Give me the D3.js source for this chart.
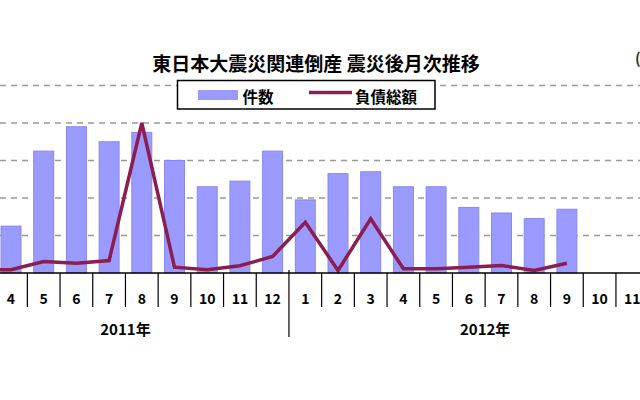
<!DOCTYPE html>
<html>
<head>
<meta charset="utf-8">
<script src="https://cdn.jsdelivr.net/npm/d3@7"></script>
<style>
  body { margin: 0; background: #fff; }
  text { font-family: "Noto Sans CJK JP", "Noto Sans", sans-serif; font-weight: bold; }
</style>
</head>
<body>
<script>
var title = '東日本大震災関連倒産 震災後月次推移';
var unitLabel = '(億円)';
var years = ['2011年', '2012年'];
var months2011 = [3, 4, 5, 6, 7, 8, 9, 10, 11, 12];
var months2012 = [1, 2, 3, 4, 5, 6, 7, 8, 9, 10, 11, 12];
// 件数 (left axis) and 負債総額 (right axis, off-screen), Mar 2011 .. Dec 2012
var counts = [14, 25, 65, 78, 70, 75, 60, 46, 49, 65, 39, 53, 54, 46, 46, 35, 32, 29, 34, null, null, null];
var debts = [90, 85, 307, 261, 333, 4000, 155, 85, 192, 440, 1355, 67, 1445, 112, 112, 155, 200, 67, 261, null, null, null];
var countTicks = [0, 20, 40, 60, 80, 100];
var debtDomain = [0, 5000];
var legendLabels = ['件数', '負債総額'];

var barColor = '#9b9bff', lineColor = '#8c1d4f';

var data = [];
months2011.forEach(function(m) { data.push({ key: '2011-' + m, year: years[0], month: m }); });
months2012.forEach(function(m) { data.push({ key: '2012-' + m, year: years[1], month: m }); });
data.forEach(function(d, i) { d.count = counts[i]; d.debt = debts[i]; });

var svg = d3.select('body').append('svg')
  .attr('width', 640)
  .attr('height', 400);

var step = 32.7, x0 = -38.05, base = 273, plotTop = 85.5;

var x = d3.scaleBand()
  .domain(data.map(function(d) { return d.key; }))
  .range([x0, x0 + step * data.length])
  .padding(0);

var y = d3.scaleLinear().domain([0, 100]).range([base, plotTop]);
var y2 = d3.scaleLinear().domain(debtDomain).range([base, plotTop]);

var cx = function(d) { return x(d.key) + x.bandwidth() / 2; };

// grid
svg.append('g').selectAll('line')
  .data(countTicks.filter(function(t) { return t > 0; }))
  .enter().append('line')
  .attr('x1', 0).attr('x2', 640)
  .attr('y1', function(d) { return y(d); })
  .attr('y2', function(d) { return y(d); })
  .style('stroke', '#999')
  .style('stroke-width', 1.3)
  .style('stroke-dasharray', '6,5');

// bars
var bw = x.bandwidth() * 0.61;
svg.append('g').selectAll('rect')
  .data(data.filter(function(d) { return d.count != null; }))
  .enter().append('rect')
  .attr('x', function(d) { return cx(d) - bw / 2; })
  .attr('width', bw)
  .attr('y', function(d) { return y(d.count); })
  .attr('height', function(d) { return base - y(d.count); })
  .style('fill', barColor)
  .style('stroke', '#8686f4')
  .style('stroke-width', 1);

// line
var line = d3.line()
  .defined(function(d) { return d.debt != null; })
  .x(cx)
  .y(function(d) { return y2(d.debt); });

svg.append('path')
  .datum(data)
  .attr('d', line)
  .style('fill', 'none')
  .style('stroke', lineColor)
  .style('stroke-width', 3.5)
  .style('stroke-linejoin', 'miter');

// x axis
var axis = svg.append('g');
axis.append('line')
  .attr('x1', 0).attr('x2', 640)
  .attr('y1', base).attr('y2', base)
  .style('stroke', '#000').style('stroke-width', 1.3);

axis.selectAll('.tick')
  .data(data)
  .enter().append('line')
  .attr('x1', function(d) { return x(d.key); })
  .attr('x2', function(d) { return x(d.key); })
  .attr('y1', function(d) { return d.month === 1 ? base - 3 : base; })
  .attr('y2', function(d) { return d.month === 1 ? 337 : 307; })
  .style('stroke', '#000')
  .style('stroke-width', 1.2);

axis.selectAll('.lbl')
  .data(data.filter(function(d) { return cx(d) > 0 && cx(d) < 640; }))
  .enter().append('text')
  .attr('x', cx)
  .attr('y', 298)
  .attr('dominant-baseline', 'central')
  .style('text-anchor', 'middle')
  .style('font-size', '14px')
  .text(function(d) { return d.month; });

axis.selectAll('.year')
  .data(years)
  .enter().append('text')
  .attr('x', function(yr) {
    var ds = data.filter(function(d) { return d.year === yr; });
    return (cx(ds[0]) + cx(ds[ds.length - 1])) / 2;
  })
  .attr('y', 328.5)
  .attr('dominant-baseline', 'central')
  .style('text-anchor', 'middle')
  .style('font-size', '15px')
  .text(function(d) { return d; });

// title
svg.append('text')
  .attr('x', 316).attr('y', 62)
  .attr('dominant-baseline', 'central')
  .style('text-anchor', 'middle')
  .style('font-size', '19px')
  .text(title);

svg.append('text')
  .attr('x', 635).attr('y', 57)
  .attr('dominant-baseline', 'central')
  .style('font-size', '15px')
  .style('fill', '#333')
  .text(unitLabel);

// legend
var legend = svg.append('g');
legend.append('rect')
  .attr('x', 177.5).attr('y', 80.5)
  .attr('width', 257.5).attr('height', 28.5)
  .style('fill', '#fff').style('stroke', '#000').style('stroke-width', 1.5);
legend.append('rect')
  .attr('x', 198).attr('y', 90).attr('width', 40).attr('height', 10)
  .style('fill', barColor);
legend.append('text')
  .attr('x', 242.5).attr('y', 96)
  .attr('dominant-baseline', 'central')
  .style('font-size', '15.5px')
  .text(legendLabels[0]);
legend.append('line')
  .attr('x1', 309).attr('x2', 352).attr('y1', 92.5).attr('y2', 92.5)
  .style('stroke', lineColor).style('stroke-width', 3.5);
legend.append('text')
  .attr('x', 355).attr('y', 96)
  .attr('dominant-baseline', 'central')
  .style('font-size', '15.5px')
  .text(legendLabels[1]);
</script>
</body>
</html>
